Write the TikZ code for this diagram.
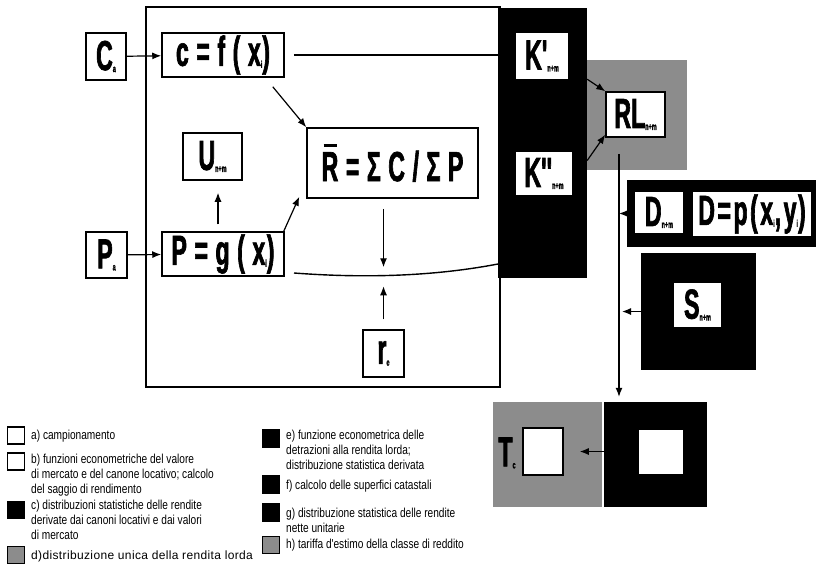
\documentclass[tikz,border=0pt]{standalone}
\usepackage{fontspec}
\setmainfont{Liberation Sans}
\newfontfamily\heavy{Liberation Sans}[FakeStretch=0.55, FakeBold=1.5]
\newfontfamily\narrow{Liberation Sans}[FakeStretch=0.78]
\usetikzlibrary{arrows.meta}

\newcommand{\bigfont}{\heavy\bfseries\fontsize{42}{42}\selectfont}
\newcommand{\idx}[1]{\raisebox{-2pt}{\fontsize{10}{10}\selectfont #1}}
\newcommand{\spread}{\addfontfeatures{LetterSpace=18}}
\newcommand{\Rbar}{\makebox[0pt][l]{\hspace{2pt}\raisebox{34pt}{\rule{13pt}{3pt}}}R}

\tikzset{
    lbl/.style={draw, line width=1.5pt, fill=white, inner sep=0pt, font=\bigfont},
    hole/.style={fill=white, inner sep=0pt, font=\bigfont},
    blk/.style={fill=black, inner sep=0pt},
    speck/.style={fill=black!45, inner sep=0pt},
    arr/.style={-{Latex[length=9pt,width=7pt]}, line width=1.2pt},
    swatch/.style={draw, line width=1.2pt, minimum size=17, inner sep=0pt},
    note/.style={font=\narrow\fontsize{13}{15}\selectfont, align=left, inner sep=0pt},
}

\begin{document}
\begin{tikzpicture}[x=1pt, y=-1pt]
    \useasboundingbox (0,0) rectangle (816,567);

%____________________________________________________________________________________________________
    \draw[line width=2pt] (146,7) rectangle (500,387);

    \node[lbl, minimum width=40, minimum height=47] (Ca) at (106,56.5) {C\idx{a}};
    \node[lbl, minimum width=122, minimum height=44] (cf) at (223,55) {\spread c=f(x\idx{i})};
    \node[lbl, minimum width=59, minimum height=47] (U) at (212.5,156.5) {U\idx{n+m}};
    \node[lbl, minimum width=41, minimum height=46] (Pa) at (106.5,255) {P\idx{a}};
    \node[lbl, minimum width=122, minimum height=44] (Pg) at (223,254) {\spread P=g(x\idx{i})};
    \node[lbl, minimum width=171, minimum height=70] (R) at (392.5,163) {\spread\Rbar=ΣC/ΣP};
    \node[lbl, minimum width=41, minimum height=47] (re) at (383.5,353.5) {r\idx{e}};

    \draw[arr] (Ca) -- (cf);
    \draw[arr] (Pa) -- (Pg);
    \draw[arr] ([xshift=-12pt,yshift=-9pt]cf.south east) -- (R.north west);
    \draw[arr] ([xshift=-1pt]Pg.north east) -- ([xshift=-7pt,yshift=2pt]R.south west);
    \draw[arr] ([xshift=-5pt,yshift=7pt]Pg.north) -- ([xshift=-5pt,yshift=-12pt]Pg.north |- U.south);
    \draw[arr] ([yshift=-10pt]R.south -| re.north) -- ([yshift=62pt]re.north);
    \draw[arr] ([yshift=10pt]re.north) -- ([yshift=43pt]re.north);

%____________________________________________________________________________________________________
    \node[blk, minimum width=89, minimum height=270] (Kblk) at (542.5,143) {};
    \node[hole, minimum width=52, minimum height=46] (K1) at (542,56) {K'\idx{n+m}};
    \node[hole, minimum width=56, minimum height=43] (K2) at (544,173.5) {K''\idx{n+m}};

    \draw[line width=1.4pt] ([xshift=9pt]cf.east) -- (cf.east -| Kblk.west);
    \coordinate (cstart) at (294,273);
    \coordinate (cend) at (498,264);
    \draw[line width=1.4pt] (cstart) .. controls (360,278) and (430,277) .. (cend);

%____________________________________________________________________________________________________
    \node[speck, minimum width=100, minimum height=110] (RLblk) at (637,115) {};
    \node[lbl, minimum width=59, minimum height=45] (RL) at (635.5,114.5) {RL\idx{n+m}};
    \draw[arr] (Kblk.east |- K1.south) -- (RL.north west);
    \draw[arr] ([yshift=13pt]Kblk.east |- K2.center) -- ([yshift=3pt]RL.south west);

    \node[blk, minimum width=189, minimum height=67] (Dblk) at (721.5,213.5) {};
    \node[hole, minimum width=48, minimum height=41] (D1) at (659,212.5) {D\idx{n+m}};
    \node[hole, minimum width=118, minimum height=44] (D2) at (752,214) {\addfontfeatures{LetterSpace=6}D=p(x\idx{i},y\idx{i})};

    \node[blk, minimum width=115, minimum height=117] (Sblk) at (698.5,311.5) {};
    \node[hole, minimum width=47, minimum height=44] (S) at (697.5,305) {S\idx{n+m}};

%____________________________________________________________________________________________________
    \node[speck, minimum width=109, minimum height=105] (Tblk) at (547.5,454.5) {};
    \node[lbl, minimum width=40, minimum height=47] (Tbox) at (543,451.5) {};
    \node[inner sep=0pt, font=\bigfont] (T) at (507,453) {T\idx{c}};
    \node[blk, minimum width=103, minimum height=105] (Bblk) at (655.5,454.5) {};
    \node[hole, minimum width=44, minimum height=44] (Bbox) at (661,452) {};

    \coordinate (vtop) at ([xshift=-16.5pt,yshift=-16pt]RL.south);
    \draw[arr] (vtop) -- ([yshift=5pt]vtop |- Bblk.north);
    \draw[arr] (Dblk.west) -- (Dblk.west -| vtop);
    \draw[arr] (Sblk.west) -- ([xshift=3pt]Sblk.west -| vtop);
    \draw[arr] ([yshift=3pt]Bblk.west) -- ([xshift=16pt,yshift=3pt]Bblk.west -| Tbox.east);

%____________________________________________________________________________________________________
    \node[swatch, fill=white] (ka) at (16,435.5) {};
    \node[note, anchor=west] (ta) at (31,436) {a) campionamento};
    \node[swatch, fill=white] (kb) at (16,461.5) {};
    \node[note, anchor=north west] (tb) at (31,454) {b) funzioni econometriche del valore\\di mercato e del canone locativo; calcolo\\del saggio di rendimento};
    \node[swatch, fill=black] (kc) at (16,510) {};
    \node[note, anchor=north west] (tc) at (31,500) {c) distribuzioni statistiche delle rendite\\derivate dai canoni locativi e dai valori\\di mercato};
    \node[swatch, fill=black!45] (kd) at (16,555) {};
    \node[note, anchor=west, font=\normalfont\fontsize{12}{15}\selectfont\addfontfeatures{LetterSpace=3}] (td) at (31,556) {d)distribuzione unica della rendita lorda};

    \node[swatch, fill=black] (ke) at (271,438.5) {};
    \node[note, anchor=north west] (te) at (286,430) {e) funzione econometrica delle\\detrazioni alla rendita lorda;\\distribuzione statistica derivata};
    \node[swatch, fill=black] (kf) at (271,484.5) {};
    \node[note, anchor=west] (tf) at (286,486) {f) calcolo delle superfici catastali};
    \node[swatch, fill=black] (kg) at (271,512.5) {};
    \node[note, anchor=north west] (tg) at (286,508) {g) distribuzione statistica delle rendite\\nette unitarie};
    \node[swatch, fill=black!45] (kh) at (271,545) {};
    \node[note, anchor=west] (th) at (286,545) {h) tariffa d'estimo della classe di reddito};
\end{tikzpicture}
\end{document}
